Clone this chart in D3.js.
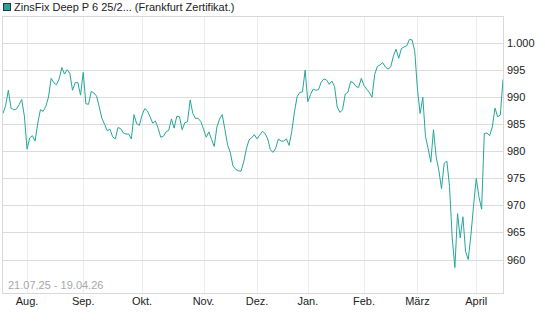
<!DOCTYPE html>
<html><head><meta charset="utf-8">
<script src="https://cdn.jsdelivr.net/npm/d3@7"></script>
<style>
html,body{margin:0;padding:0;background:#fff;}
svg text{font-family:"Liberation Sans",Arial,sans-serif;}
</style></head>
<body>
<svg id="chart" width="545" height="327"></svg>
<script>
// ---- data ----
const seriesName = "ZinsFix Deep P 6 25/2... (Frankfurt Zertifikat.)";
const rangeLabel = "21.07.25 - 19.04.26";
const startDate = "2025-07-21";
const endDate = "2026-04-17";
const holidays = ["2025-12-24","2025-12-25","2025-12-26","2025-12-31","2026-01-01","2026-04-03","2026-04-06"];
const monthLabels = ["Aug.","Sep.","Okt.","Nov.","Dez.","Jan.","Feb.","März","April"];
const yTicks = [960,965,970,975,980,985,990,995,1000];
const values = [
987.0,988.5,991.3,988.0,987.7,987.8,988.6,989.6,986.5,980.4,
982.5,982.9,981.9,985.2,987.7,987.4,988.3,990.0,993.5,992.7,
992.3,993.4,995.5,994.3,995.1,994.4,991.3,992.7,992.7,990.4,
994.6,988.8,988.7,991.1,990.8,990.2,988.2,986.1,985.0,983.8,
984.1,982.7,982.3,984.4,984.2,983.4,983.2,983.2,982.3,986.8,
985.1,984.8,986.7,987.9,987.5,986.4,985.2,985.6,984.3,982.6,
982.8,983.6,983.9,986.0,984.3,986.5,986.4,984.0,985.3,985.5,
989.5,987.0,986.1,986.1,985.5,984.1,982.6,983.6,982.2,980.9,
984.5,986.0,986.8,984.0,981.2,979.8,977.3,976.7,976.4,976.3,
978.0,980.4,982.1,982.5,983.1,982.3,983.0,983.7,983.3,982.3,
980.3,979.8,980.6,982.3,981.9,981.9,982.3,981.1,983.7,987.3,
990.1,990.9,991.0,995.0,989.2,990.5,991.5,991.3,991.4,992.8,
993.4,993.2,992.4,993.0,992.0,988.2,987.2,987.7,990.6,990.9,
992.9,992.7,992.0,991.8,993.5,992.2,991.5,990.9,990.0,994.2,
995.7,996.0,996.4,995.6,995.2,995.6,997.6,998.9,997.2,999.0,
999.3,999.5,1000.7,1000.6,998.5,991.5,987.0,990.0,982.8,980.5,
978.0,984.0,979.0,976.5,973.1,977.8,978.2,973.5,964.0,958.5,
968.5,964.0,967.9,961.5,960.0,964.5,970.0,975.0,971.6,969.3,
983.3,983.4,982.9,984.5,988.0,986.4,986.7,993.3
];

// ---- trading days ----
const parse = d3.utcParse("%Y-%m-%d");
const fmt = d3.utcFormat("%Y-%m-%d");
const hol = new Set(holidays);
const days = d3.utcDays(parse(startDate), d3.utcDay.offset(parse(endDate), 1))
  .filter(d => d.getUTCDay() !== 0 && d.getUTCDay() !== 6 && !hol.has(fmt(d)));
const data = values.map((v, i) => ({i, date: days[i], v}));

// first trading day of each month (excluding the start month)
const monthStarts = [];
for (let i = 1; i < days.length; i++) {
  if (days[i].getUTCMonth() !== days[i-1].getUTCMonth()) monthStarts.push(i);
}

// ---- layout ----
const svg = d3.select("#chart");
const L = 3, R = 503, T = 16, B = 293;
const x = d3.scaleLinear().domain([0, values.length - 1]).range([L, R]);
const y = d3.scaleLinear().domain([960, 1000]).range([259.5, 43.2]);
const loc = d3.formatLocale({decimal: ",", thousands: ".", grouping: [3], currency: ["", "€"]});
const yFmt = loc.format(",.0f");

// vertical gridlines
svg.append("g").selectAll("line").data(monthStarts).join("line")
  .attr("x1", d => Math.round(x(d)) + 0.5).attr("x2", d => Math.round(x(d)) + 0.5)
  .attr("y1", T).attr("y2", B)
  .attr("stroke", "#ececec").attr("stroke-width", 1);

// horizontal gridlines
svg.append("g").selectAll("line").data(yTicks).join("line")
  .attr("x1", L).attr("x2", R)
  .attr("y1", d => Math.round(y(d)) + 0.5).attr("y2", d => Math.round(y(d)) + 0.5)
  .attr("stroke", "#dcdcdc").attr("stroke-width", 1);

// frame
svg.append("rect").attr("x", L - 0.5).attr("y", T + 0.5)
  .attr("width", R - L + 1).attr("height", B - T)
  .attr("fill", "none").attr("stroke", "#d8d8d8");

// line
svg.append("defs").append("clipPath").attr("id", "clip")
  .append("rect").attr("x", L).attr("y", T).attr("width", R - L).attr("height", B - T);
svg.append("path").datum(data)
  .attr("clip-path", "url(#clip)")
  .attr("fill", "none").attr("stroke", "#26a69a").attr("stroke-width", 1)
  .attr("d", d3.line().x(d => x(d.i)).y(d => y(d.v)));

// y labels
svg.append("g").selectAll("text").data(yTicks).join("text")
  .attr("x", 507).attr("y", d => y(d) + 4)
  .attr("font-size", 11).attr("fill", "#222")
  .text(d => yFmt(d));

// month labels
svg.append("g").selectAll("text").data(monthStarts).join("text")
  .attr("x", d => x(d)).attr("y", 305)
  .attr("text-anchor", "middle").attr("font-size", 11).attr("fill", "#222")
  .text((d, k) => monthLabels[k]);

// range label
svg.append("text").attr("x", 8).attr("y", 289)
  .attr("font-size", 11).attr("fill", "#a8a8a8").text(rangeLabel);

// legend
svg.append("rect").attr("x", 3.5).attr("y", 3.5).attr("width", 7).attr("height", 7)
  .attr("fill", "#26a69a").attr("stroke", "#333").attr("stroke-width", 1);
svg.append("text").attr("x", 14).attr("y", 11)
  .attr("font-size", 11).attr("fill", "#222").text(seriesName);
</script>
</body></html>
